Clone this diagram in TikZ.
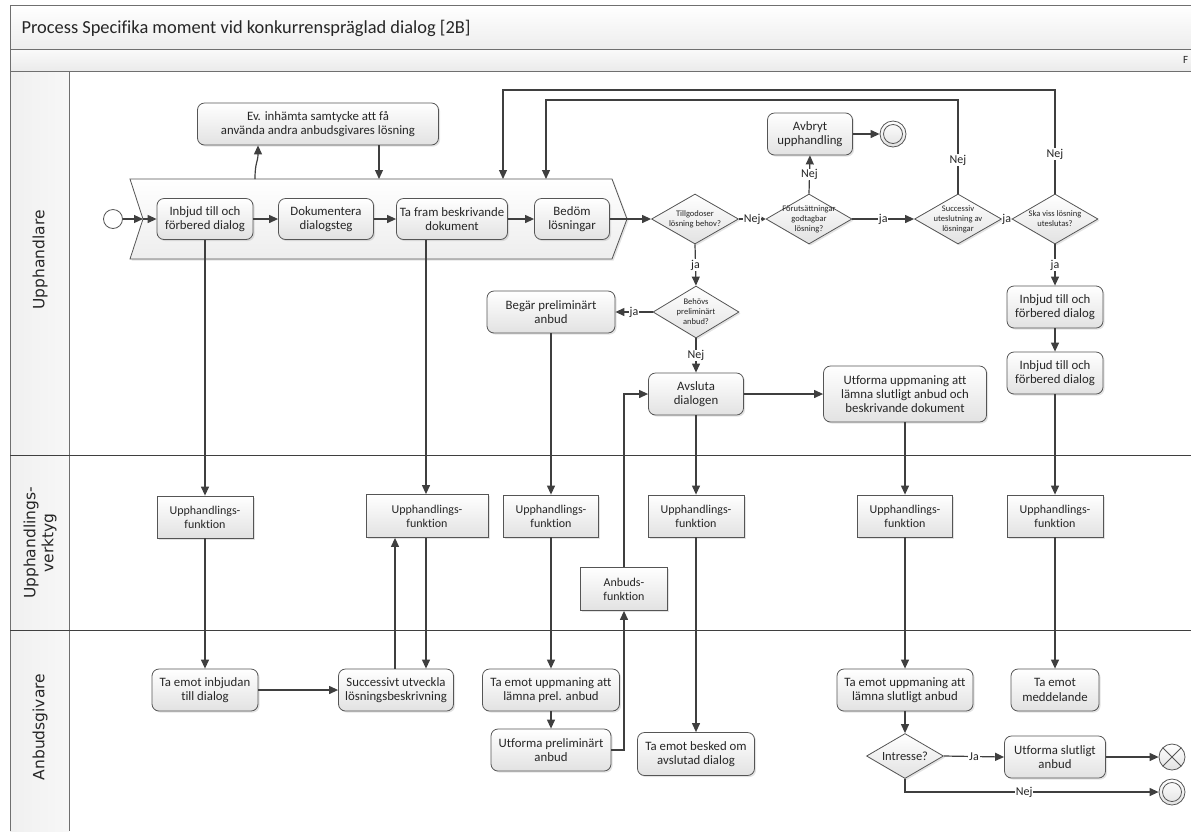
\documentclass[tikz,border=0pt]{standalone}
\usepackage{fontspec}
\setmainfont{Carlito}[Ligatures={NoCommon,NoRare}]
\newfontfamily\lanefont{DejaVu Sans}
\usetikzlibrary{arrows.meta,shapes.geometric,shadows}

\definecolor{ink}{HTML}{262626}
\definecolor{edgecol}{HTML}{3F3F3F}
\definecolor{boxcol}{HTML}{555555}
\definecolor{framecol}{HTML}{6F6F6F}
\definecolor{shadeB}{HTML}{E2E2E2}

\tikzset{
  boxbase/.style={draw=boxcol, line width=0.8pt, top color=white, bottom color=shadeB,
    drop shadow={opacity=0.22, shadow xshift=1.6pt, shadow yshift=-1.6pt},
    align=center, text=ink, inner sep=2pt},
  task/.style={boxbase, rectangle, rounded corners=7pt, font=\fontsize{12.8}{14.2}\selectfont},
  func/.style={boxbase, rectangle, sharp corners, font=\fontsize{12}{14}\selectfont},
  dec/.style={boxbase, diamond, inner sep=0pt},
  dectext/.style={align=center, text=ink, inner sep=0pt, font=\fontsize{8.5}{10}\selectfont},
  flow/.style={draw=edgecol, line width=1.2pt, -{Triangle[length=9pt,width=8pt]}},
  smalltip/.style={-{Triangle[length=4pt,width=4.5pt]}},
  lbl/.style={fill=white, inner sep=0.8pt, text=ink, font=\fontsize{12}{13}\selectfont},
  lanelbl/.style={rotate=90, align=center, text=ink, font=\lanefont\fontsize{15.5}{18}\selectfont},
  startev/.style={circle, draw=boxcol, line width=0.8pt, fill=white, minimum size=19pt, inner sep=0pt},
  evbase/.style={circle, draw=boxcol, line width=0.8pt, top color=white, bottom color=shadeB,
    minimum size=26pt, inner sep=0pt},
  endev/.style={evbase, path picture={\draw[boxcol, line width=0.8pt]
    (path picture bounding box.center) circle[radius=9.5pt];}},
  termev/.style={evbase, path picture={\draw[boxcol, line width=0.8pt]
    (path picture bounding box.north west) -- (path picture bounding box.south east)
    (path picture bounding box.north east) -- (path picture bounding box.south west);}},
}

\begin{document}
\begin{tikzpicture}[x=1pt, y=-1pt]
\useasboundingbox (0,0) rectangle (1191,831);

% ---- pool frame, title bands and lanes ----
\fill[top color=white, bottom color=black!7] (10,5) rectangle (1191,49);
\fill[top color=black!2, bottom color=black!8] (10,49) rectangle (1191,71);
\fill[left color=black!6, right color=black!3] (10,71) rectangle (69,831);
\draw[framecol, line width=0.9pt] (10,831) -- (10,5) -- (1191,5);
\draw[framecol, line width=0.9pt] (10,49) -- (1191,49);
\draw[framecol, line width=0.9pt] (10,71) -- (1191,71);
\draw[framecol, line width=0.9pt] (69,71) -- (69,831);
\draw[edgecol, line width=0.9pt] (10,455) -- (1191,455);
\draw[edgecol, line width=0.9pt] (10,630) -- (1191,630);

\node[anchor=west, text=ink, font=\fontsize{18.4}{20}\selectfont] (title) at (18,28)
  {Process Specifika moment vid konkurrenspräglad dialog [2B]};
\node[anchor=west, text=ink, font=\fontsize{11}{12}\selectfont, inner sep=0pt] (bandtag) at (1183,60) {F};

\node[lanelbl] (lane1) at (40,260) {Upphandlare};
\node[lanelbl] (lane2) at (40,543) {Upphandlings-\\verktyg};
\node[lanelbl] (lane3) at (40,727) {Anbudsgivare};

% ---- Upphandlare: the dialogue phase ----
\draw[boxbase, top color=white, bottom color=black!7]
  (130,179) -- (612,179) -- (627,219) -- (612,259) -- (130,259) -- (143,219) -- cycle;
\coordinate (chevIn) at (143,219);
\coordinate (chevEv) at (255,179);
\coordinate (chevEvIn) at (379,179);
\coordinate (loopA) at (503,179);
\coordinate (loopB) at (546,179);

\node[startev] (start) at (113,219) {};
\node[task, minimum width=96, minimum height=41] (inbjud1) at (205,219) {Inbjud till och\\förbered dialog};
\node[task, minimum width=95, minimum height=41] (dok) at (326,219) {Dokumentera\\dialogsteg};
\node[task, minimum width=111, minimum height=41] (tafram) at (452,219) {Ta fram beskrivande\\dokument};
\node[task, minimum width=75, minimum height=41] (bedom) at (572,219) {Bedöm\\lösningar};
\node[task, minimum width=241, minimum height=42] (ev) at (318,124)
  {Ev. inhämta samtycke att få\\använda andra anbudsgivares lösning};

\node[dec, minimum width=87, minimum height=50,
  label={[dectext]center:Tillgodoser\\lösning behov?}] (d1) at (695,219) {};
\node[dec, minimum width=86, minimum height=50,
  label={[dectext]center:Förutsättningar\\godtagbar\\lösning?}] (d2) at (809,219) {};
\node[dec, minimum width=87, minimum height=50,
  label={[dectext]center:Successiv\\uteslutning av\\lösningar}] (d3) at (958,219) {};
\node[dec, minimum width=86, minimum height=50,
  label={[dectext]center:Ska viss lösning\\uteslutas?}] (d4) at (1055,219) {};

\node[task, minimum width=85, minimum height=42] (avbryt) at (810,134) {Avbryt\\upphandling};
\node[endev] (end1) at (893,134) {};

\node[dec, minimum width=86, minimum height=52,
  label={[dectext]center:Behövs\\preliminärt\\anbud?}] (d5) at (696,312) {};
\node[task, minimum width=128, minimum height=42] (begar) at (551,312) {Begär preliminärt\\anbud};
\node[task, minimum width=95, minimum height=42] (avsluta) at (696,394) {Avsluta\\dialogen};
\node[task, minimum width=163, minimum height=56] (utforma) at (905,394)
  {Utforma uppmaning att\\lämna slutligt anbud och\\beskrivande dokument};
\node[task, minimum width=96, minimum height=42] (inbjud2) at (1055,307) {Inbjud till och\\förbered dialog};
\node[task, minimum width=96, minimum height=42] (inbjud3) at (1055,373) {Inbjud till och\\förbered dialog};

% ---- Upphandlingsverktyg ----
\node[func, minimum width=96, minimum height=42] (uf1) at (205,517) {Upphandlings-\\funktion};
\node[func, minimum width=122, minimum height=43] (uf2) at (427,516) {Upphandlings-\\funktion};
\node[func, minimum width=95, minimum height=42] (uf3) at (551,516) {Upphandlings-\\funktion};
\node[func, minimum width=87, minimum height=43] (anbuds) at (624,589) {Anbuds-\\funktion};
\node[func, minimum width=96, minimum height=42] (uf4) at (696,516) {Upphandlings-\\funktion};
\node[func, minimum width=95, minimum height=42] (uf5) at (905,516) {Upphandlings-\\funktion};
\node[func, minimum width=96, minimum height=42] (uf6) at (1055,516) {Upphandlings-\\funktion};

% ---- Anbudsgivare ----
\node[task, minimum width=106, minimum height=42] (taemot1) at (205,690) {Ta emot inbjudan\\till dialog};
\node[task, minimum width=115, minimum height=42] (succ) at (396,690) {Successivt utveckla\\lösningsbeskrivning};
\node[task, minimum width=137, minimum height=42] (taprel) at (551,690) {Ta emot uppmaning att\\lämna prel. anbud};
\node[task, minimum width=120, minimum height=42] (utfprel) at (551,750) {Utforma preliminärt\\anbud};
\node[task, minimum width=117, minimum height=43] (besked) at (696,754) {Ta emot besked om\\avslutad dialog};
\node[task, minimum width=136, minimum height=42] (taslut) at (905,690) {Ta emot uppmaning att\\lämna slutligt anbud};
\node[task, minimum width=88, minimum height=42] (medd) at (1055,690) {Ta emot\\meddelande};
\node[dec, minimum width=77, minimum height=45,
  label={[dectext, font=\fontsize{12.5}{14}\selectfont]center:Intresse?}] (intresse) at (905,756) {};
\node[task, minimum width=101, minimum height=42] (utfslut) at (1055,757) {Utforma slutligt\\anbud};
\node[termev] (endx) at (1172,757) {};
\node[endev] (endd) at (1172,792) {};

% ---- sequence flows in the dialogue phase ----
\draw[flow] (start) -- (chevIn);
\draw[flow] (chevIn) -- (inbjud1.west);
\draw[flow] (inbjud1.east) -- (dok.west);
\draw[flow] (dok.east) -- (tafram.west);
\draw[flow] (tafram.east) -- (bedom.west);
\draw[flow] (bedom.east) -- (d1.west);

\coordinate (evx) at (258,0);
\coordinate (evy) at (379,0);
\draw[flow] (chevEv) .. controls (255,162) and (258,162) .. (ev.south -| evx);
\draw[flow] (ev.south -| evy) -- (chevEvIn);

\coordinate (topA) at (503,90);
\coordinate (topB) at (546,100);
\draw[flow] (d4.north) |- node[lbl, pos=0.19] {Nej} (topA) -- (loopA);
\draw[flow] (d3.north) |- node[lbl, pos=0.18] {Nej} (topB) -- (loopB);

% ---- decisions ----
\draw[flow, smalltip] (d1.east) -- node[lbl] {Nej} (d2.west);
\draw[flow] (d2.north) -- node[lbl] {Nej} (avbryt.south);
\draw[flow] (avbryt.east) -- (end1);
\draw[flow] (d2.east) -- node[lbl] {ja} (d3.west);
\draw[flow, smalltip] (d3.east) -- node[lbl, inner sep=0.3pt] {ja} (d4.west);
\draw[flow] (d1.south) -- node[lbl] {ja} (d5.north);
\draw[flow] (d5.west) -- node[lbl] {ja} (begar.east);
\draw[flow] (d5.south) -- node[lbl] {Nej} (avsluta.north);
\draw[flow] (avsluta.east) -- (utforma.west);
\draw[flow] (d4.south) -- node[lbl] {ja} (inbjud2.north);
\draw[flow] (inbjud2.south) -- (inbjud3.north);

% ---- flows across the lanes ----
\draw[flow] (inbjud1.south) -- (uf1.north);
\draw[flow] (uf1.south) -- (taemot1.north);
\draw[flow] (taemot1.east) -- (succ.west);

\coordinate (xa) at (426,0);
\coordinate (xb) at (395,0);
\draw[flow] (tafram.south -| xa) -- (uf2.north -| xa);
\draw[flow] (uf2.south -| xa) -- (succ.north -| xa);
\draw[flow] (succ.north -| xb) -- (uf2.south -| xb);

\draw[flow] (begar.south) -- (uf3.north);
\draw[flow] (uf3.south) -- (taprel.north);
\draw[flow] (taprel.south) -- (utfprel.north);
\draw[flow] (utfprel.east) -| (anbuds.south);
\draw[flow] (anbuds.north) |- (avsluta.west);

\draw[flow] (avsluta.south) -- (uf4.north);
\draw[flow] (uf4.south) -- (besked.north);

\draw[flow] (utforma.south) -- (uf5.north);
\draw[flow] (uf5.south) -- (taslut.north);
\draw[flow] (taslut.south) -- (intresse.north);
\draw[flow] (intresse.east) -- node[lbl] {Ja} (utfslut.west);
\draw[flow] (utfslut.east) -- (endx);
\draw[flow] (intresse.south) |- node[lbl, pos=0.735] {Nej} (endd.west);

\draw[flow] (inbjud3.south) -- (uf6.north);
\draw[flow] (uf6.south) -- (medd.north);
\end{tikzpicture}
\end{document}
